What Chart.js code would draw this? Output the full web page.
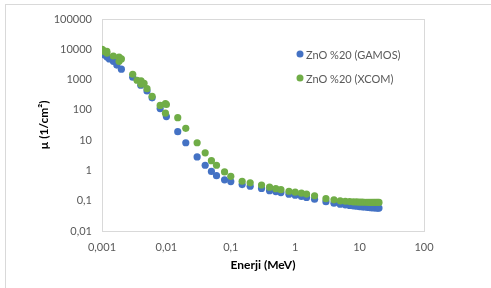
<!DOCTYPE html>
<html>
<head>
<meta charset="utf-8">
<script src="https://cdn.jsdelivr.net/npm/chart.js@4/dist/chart.umd.min.js"></script>
<style>
  html, body { margin: 0; padding: 0; background: #fff; overflow: hidden; }
  #wrap { position: relative; width: 491px; height: 288px; }
  #frame { position: absolute; left: 5px; top: 4px; width: 520px; height: 320px; border: 1px solid #d9d9d9; pointer-events: none; }
  canvas { position: absolute; left: 0; top: 0; }
</style>
</head>
<body>
<div id="wrap">
  <canvas id="chart" width="491" height="288"></canvas>
  <div id="frame"></div>
</div>
<script>
    "use strict";

    /** Data (energy in MeV, mu in 1/cm2) */
    var gamosEnergy = [0.001, 0.0011, 0.0012, 0.0013, 0.0015, 0.0017, 0.002, 0.003, 0.004, 0.005, 0.006, 0.008, 0.01,
                       0.015, 0.02, 0.03, 0.04, 0.05, 0.06, 0.08, 0.1, 0.15, 0.2, 0.3, 0.4, 0.5, 0.6, 0.8,
                       1, 1.25, 1.5, 2, 3, 4, 5, 6, 7, 8, 9, 10, 11, 12, 13, 14, 15, 16, 17, 18, 19, 20];
    var gamosMu = [7500, 6500, 5600, 4800, 4000, 3000, 2200, 1200, 650, 420, 250, 110, 60,
                   19, 8.2, 2.8, 1.48, 0.93, 0.67, 0.49, 0.43, 0.34, 0.30, 0.255, 0.215, 0.2, 0.185, 0.165,
                   0.152, 0.138, 0.128, 0.112, 0.093, 0.083, 0.077, 0.073, 0.07, 0.068, 0.066, 0.064, 0.063,
                   0.062, 0.061, 0.06, 0.059, 0.059, 0.058, 0.058, 0.057, 0.057];

    var xcomEnergy = [0.001, 0.00102, 0.00104, 0.0011, 0.00119, 0.00119, 0.0015, 0.00184, 0.00184, 0.002,
                      0.003, 0.0035, 0.00404, 0.00404, 0.0045, 0.005, 0.006, 0.008, 0.00966, 0.00966, 0.01,
                      0.015, 0.02, 0.03, 0.04, 0.05, 0.06, 0.08, 0.1, 0.15, 0.2, 0.3, 0.4, 0.5, 0.6, 0.8,
                      1, 1.25, 1.5, 2, 3, 4, 5, 6, 7, 8, 9, 10, 11, 12, 13, 14, 15, 16, 17, 18, 19, 20];
    var xcomMu = [10000, 9500, 9000, 8500, 7500, 8500, 6000, 4000, 5500, 4800,
                  1500, 950, 700, 900, 750, 500, 280, 140, 78, 160, 150,
                  55, 24.5, 8.2, 3.8, 2.1, 1.48, 0.89, 0.64, 0.44, 0.39, 0.33, 0.28, 0.25, 0.232, 0.205,
                  0.192, 0.178, 0.166, 0.146, 0.117, 0.107, 0.099, 0.096, 0.094, 0.092, 0.091, 0.09, 0.09,
                  0.089, 0.089, 0.088, 0.088, 0.088, 0.088, 0.088, 0.088, 0.088];

    var xTickValues = [0.001, 0.01, 0.1, 1, 10, 100];
    var yTickValues = [0.01, 0.1, 1, 10, 100, 1000, 10000, 100000];

    var seriesNames = ['ZnO %20 (GAMOS)', 'ZnO %20 (XCOM)'];
    var seriesColors = ['#4472c4', '#70ad47'];

    function toPoints(xs, ys) {
        return xs.map(function (x, i) { return { x: x, y: ys[i] }; });
    }

    function commaLabel(v) {
        return String(v).replace('.', ',');
    }

    /** Plot area box and the legend inside it */
    var boxAndLegend = {
        id: 'boxAndLegend',
        beforeDatasetsDraw: function (chart) {
            var a = chart.chartArea, ctx = chart.ctx;
            ctx.save();
            ctx.strokeStyle = '#d9d9d9';
            ctx.lineWidth = 1;
            ctx.strokeRect(Math.round(a.left) + 0.5, Math.round(a.top) + 0.5,
                           Math.round(a.right - a.left), Math.round(a.bottom - a.top));
            ctx.restore();
        },
        afterDraw: function (chart) {
            var ctx = chart.ctx;
            ctx.save();
            ctx.font = '11px Lato';
            ctx.textBaseline = 'middle';
            ctx.textAlign = 'left';
            seriesNames.forEach(function (name, i) {
                var y = 54 + i * 24;
                ctx.fillStyle = seriesColors[i];
                ctx.beginPath();
                ctx.arc(300, y, 3.5, 0, Math.PI * 2);
                ctx.fill();
                ctx.fillStyle = '#595959';
                ctx.fillText(name, 306, y + 1);
            });
            ctx.restore();
        }
    };

    var ctx = document.getElementById('chart').getContext('2d');
    var muChart = new Chart(ctx, {
        type: 'scatter',
        data: {
            datasets: [{
                label: seriesNames[0],
                data: toPoints(gamosEnergy, gamosMu),
                backgroundColor: seriesColors[0],
                borderColor: seriesColors[0],
                pointRadius: 3.6,
                borderWidth: 0,
                order: 1
            }, {
                label: seriesNames[1],
                data: toPoints(xcomEnergy, xcomMu),
                backgroundColor: seriesColors[1],
                borderColor: seriesColors[1],
                pointRadius: 3.6,
                borderWidth: 0,
                order: 0
            }]
        },
        options: {
            responsive: false,
            animation: false,
            layout: { padding: { left: 0, right: 67, top: 19, bottom: 0 } },
            plugins: {
                legend: { display: false },
                tooltip: { enabled: false }
            },
            scales: {
                x: {
                    type: 'logarithmic',
                    min: 0.001,
                    max: 100,
                    grid: { display: false, drawTicks: false },
                    border: { display: false },
                    afterBuildTicks: function (scale) {
                        scale.ticks = xTickValues.map(function (v) { return { value: v }; });
                    },
                    afterFit: function (scale) { scale.height = 57; },
                    ticks: {
                        autoSkip: false,
                        maxRotation: 0,
                        padding: 10,
                        color: '#595959',
                        font: { family: 'Lato', size: 11 },
                        callback: function (v) { return commaLabel(v); }
                    },
                    title: {
                        display: true,
                        text: 'Enerji (MeV)',
                        color: '#000',
                        font: { family: 'Lato', size: 12, weight: 'bold' },
                        padding: { top: 0, bottom: 16 }
                    }
                },
                y: {
                    type: 'logarithmic',
                    min: 0.01,
                    max: 100000,
                    grid: { display: false, drawTicks: false },
                    border: { display: false },
                    afterBuildTicks: function (scale) {
                        scale.ticks = yTickValues.map(function (v) { return { value: v }; });
                    },
                    afterFit: function (scale) { scale.width = 102; },
                    ticks: {
                        autoSkip: false,
                        padding: 10,
                        color: '#595959',
                        font: { family: 'Lato', size: 11 },
                        callback: function (v) { return commaLabel(v); }
                    },
                    title: {
                        display: true,
                        text: 'µ (1/cm²)',
                        color: '#000',
                        font: { family: 'Lato', size: 12, weight: 'bold' },
                        padding: { top: 37, bottom: 0 }
                    }
                }
            }
        },
        plugins: [boxAndLegend]
    });
</script>
</body>
</html>
